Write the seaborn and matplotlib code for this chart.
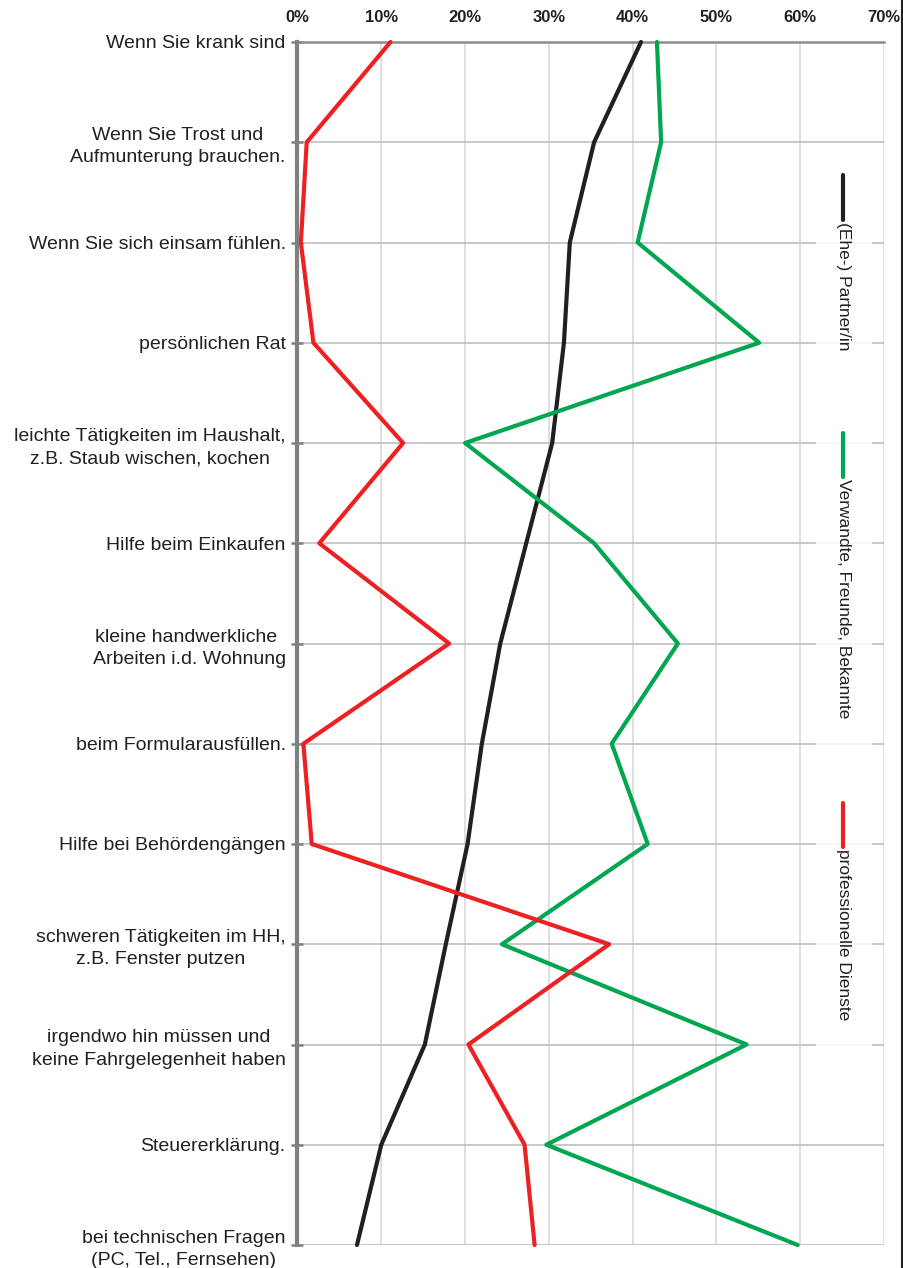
import matplotlib
matplotlib.use("Agg")
import matplotlib.pyplot as plt
from matplotlib.lines import Line2D
from matplotlib.patches import Rectangle
from matplotlib.ticker import FuncFormatter
import numpy as np
import pandas as pd
import seaborn as sns

# Situations in which help is received
kategorien = [
    "Wenn Sie krank sind",
    "Wenn Sie Trost und\nAufmunterung brauchen.",
    "Wenn Sie sich einsam fühlen.",
    "persönlichen Rat",
    "leichte Tätigkeiten im Haushalt,\nz.B. Staub wischen, kochen",
    "Hilfe beim Einkaufen",
    "kleine handwerkliche \nArbeiten i.d. Wohnung",
    "beim Formularausfüllen.",
    "Hilfe bei Behördengängen",
    "schweren Tätigkeiten im HH,\nz.B. Fenster putzen",
    "irgendwo hin müssen und\nkeine Fahrgelegenheit haben",
    "Steuererklärung.",
    "bei technischen Fragen\n(PC, Tel., Fernsehen)",
]

gruppen = ["(Ehe-) Partner/in", "Verwandte, Freunde, Bekannte", "professionelle Dienste"]

partner = [41.0, 35.4, 32.5, 31.8, 30.4, 27.3, 24.2, 22.0, 20.3, 17.7, 15.2, 10.0, 7.1]
verwandte = [42.9, 43.4, 40.6, 55.1, 20.0, 35.4, 45.4, 37.5, 41.8, 24.4, 53.6, 29.7, 59.7]
professionell = [11.1, 1.1, 0.4, 1.9, 12.6, 2.6, 18.1, 0.7, 1.7, 37.2, 20.4, 27.1, 28.3]

farben = ["#231f20", "#00a650", "#ed2024"]
x_ticks = [0, 10, 20, 30, 40, 50, 60, 70]

df = pd.DataFrame({
    "pos": list(range(len(kategorien))) * 3,
    "Anteil": partner + verwandte + professionell,
    "Gruppe": np.repeat(gruppen, len(kategorien)),
})

sns.set_style("white")
plt.rcParams["font.family"] = ["Liberation Sans", "DejaVu Sans"]
text_color = "#231f20"

W, H = 904, 1268
fig = plt.figure(figsize=(W / 100, H / 100), dpi=100)
left, right, top, bottom = 297.5, 884, 42, 1245
ax = fig.add_axes([left / W, 1 - bottom / H, (right - left) / W, (bottom - top) / H])

sns.lineplot(
    data=df, x="Anteil", y="pos", hue="Gruppe", hue_order=gruppen,
    palette=farben, sort=False, orient="y", estimator=None, errorbar=None,
    linewidth=3, legend=False, ax=ax, clip_on=False, zorder=5,
)

ax.set_xlim(0, 70)
ax.set_ylim(len(kategorien) - 1, 0)
ax.set_xlabel("")
ax.set_ylabel("")

# top percentage axis
ax.xaxis.tick_top()
ax.set_xticks(x_ticks)
ax.xaxis.set_major_formatter(FuncFormatter(lambda v, p: f"{v:.0f}%"))
ax.tick_params(axis="x", length=0, pad=12, labelsize=12, labelcolor=text_color)
for lbl in ax.get_xticklabels():
    lbl.set_fontweight("bold")

# category axis
ax.set_yticks(range(len(kategorien)))
ax.set_yticklabels(kategorien, fontsize=14, color=text_color,
                   multialignment="center", linespacing=1.4)
ax.tick_params(axis="y", left=True, direction="inout", length=8, width=1.8,
               color="#808080", pad=4.5)

# grid
ax.grid(True, axis="x", color="#d9d9d9", linewidth=1.2, zorder=0)
ax.grid(True, axis="y", color="#bfbfbf", linewidth=1.2, zorder=0)
ax.set_axisbelow(True)

for s in ["bottom", "right"]:
    ax.spines[s].set_visible(False)
ax.spines["top"].set_color("#8c8c8c")
ax.spines["top"].set_linewidth(1.8)
ax.spines["left"].set_color("#808080")
ax.spines["left"].set_linewidth(3)
ax.spines["left"].set_zorder(6)

# rotated legend on the right
fig.patches.append(Rectangle((816 / W, 1 - 1055 / H), 56 / W, 900 / H,
                             transform=fig.transFigure, facecolor="white",
                             edgecolor="none", alpha=0.85, zorder=3))
leg_entries = [(175, 220), (433, 477), (803, 847)]
lx = 843.5 / W
for (y0, y1), name, col in zip(leg_entries, gruppen, farben):
    fig.add_artist(Line2D([lx, lx], [1 - y0 / H, 1 - y1 / H], transform=fig.transFigure,
                          color=col, linewidth=3, solid_capstyle="round", zorder=4))
    fig.text(lx, 1 - (y1 + 2) / H, name, rotation=-90, ha="center", va="top",
             fontsize=12.5, color=text_color, zorder=4)

# right border line
fig.add_artist(Line2D([902 / W, 902 / W], [0, 1], transform=fig.transFigure,
                      color="#231f20", linewidth=1.5))

fig.savefig("out.png", dpi=100)
